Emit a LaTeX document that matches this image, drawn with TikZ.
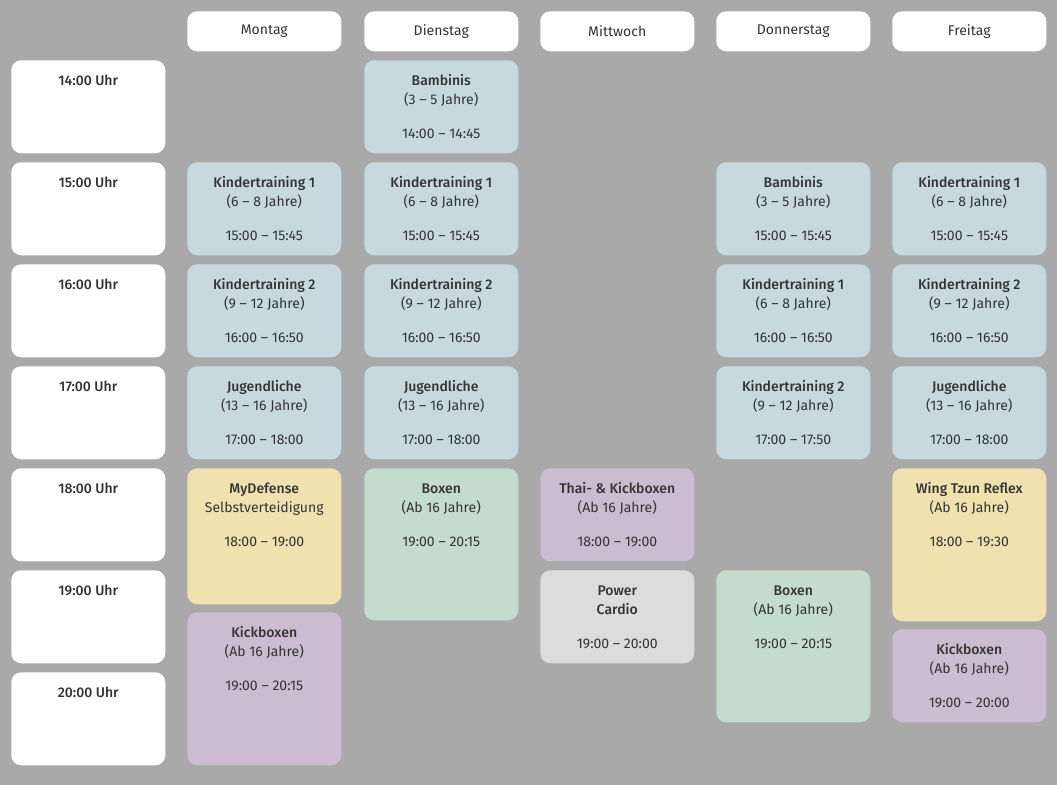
\documentclass[tikz,border=0pt]{standalone}
\usepackage{fontspec}
\setmainfont{Fira Sans}[BoldFont={* Medium}]
\usepackage{tikz}
\usetikzlibrary{positioning}

\definecolor{bg}{HTML}{A9A9A9}
\definecolor{txt}{HTML}{333333}
\definecolor{kids}{HTML}{C7D9DF}
\definecolor{gelb}{HTML}{EFE2AE}
\definecolor{gruen}{HTML}{C4DCCD}
\definecolor{lila}{HTML}{CBBCD2}
\definecolor{grau}{HTML}{DCDCDC}

\tikzset{
  box/.style={anchor=north west, rounded corners=7.5pt, inner sep=0pt,
    minimum width=115.5pt},
  line/.style={anchor=base, inner sep=0pt, text=txt,
    font=\fontsize{10.5}{12}\selectfont}
}

% box name, x, y, height (px), colour, title, second line, time
\newcommand{\kurs}[8]{%
  \node[box, fill=#5, minimum height=#4*0.75pt] (#1) at (#2,#3) {};
  \node[line, font=\fontsize{10.5}{12}\selectfont\bfseries] (#1-a) at ([yshift=-18.75pt]#1.north) {#6};
  \node[line] (#1-b) at ([yshift=-33pt]#1.north) {#7};
  \node[line] (#1-c) at ([yshift=-58.5pt]#1.north) {#8};
}
% time of day box
\newcommand{\zeit}[3]{%
  \node[box, fill=white, minimum height=69.75pt] (#1) at (11,#2) {};
  \node[line, font=\fontsize{10.5}{12}\selectfont\bfseries] (#1-a) at ([yshift=-18.75pt]#1.north) {#3};
}

\begin{document}
\begin{tikzpicture}[x=0.75pt, y=-0.75pt]

\fill[bg] (0,0) rectangle (1057,785);

% days
\node[box, fill=white, minimum height=30pt] (mo) at (187,11) {};
\node[box, fill=white, minimum height=30pt] (di) at (364,11) {};
\node[box, fill=white, minimum height=30pt] (mi) at (540,11) {};
\node[box, fill=white, minimum height=30pt] (do) at (716,11) {};
\node[box, fill=white, minimum height=30pt] (fr) at (892,11) {};
\node[line, anchor=center] at (mo) {Montag};
\node[line, anchor=center] at (di) {Dienstag};
\node[line, anchor=center] at (mi) {Mittwoch};
\node[line, anchor=center] at (do) {Donnerstag};
\node[line, anchor=center] at (fr) {Freitag};

% hours
\zeit{h14}{60}{14:00 Uhr}
\zeit{h15}{162}{15:00 Uhr}
\zeit{h16}{264}{16:00 Uhr}
\zeit{h17}{366}{17:00 Uhr}
\zeit{h18}{468}{18:00 Uhr}
\zeit{h19}{570}{19:00 Uhr}
\zeit{h20}{672}{20:00 Uhr}

% Montag
\kurs{mo1}{187}{162}{93}{kids}{Kindertraining 1}{(6 – 8 Jahre)}{15:00 – 15:45}
\kurs{mo2}{187}{264}{93}{kids}{Kindertraining 2}{(9 – 12 Jahre)}{16:00 – 16:50}
\kurs{mo3}{187}{366}{93}{kids}{Jugendliche}{(13 – 16 Jahre)}{17:00 – 18:00}
\kurs{mo4}{187}{468}{136}{gelb}{MyDefense}{Selbstverteidigung}{18:00 – 19:00}
\kurs{mo5}{187}{612}{153}{lila}{Kickboxen}{(Ab 16 Jahre)}{19:00 – 20:15}

% Dienstag
\kurs{di0}{364}{60}{93}{kids}{Bambinis}{(3 – 5 Jahre)}{14:00 – 14:45}
\kurs{di1}{364}{162}{93}{kids}{Kindertraining 1}{(6 – 8 Jahre)}{15:00 – 15:45}
\kurs{di2}{364}{264}{93}{kids}{Kindertraining 2}{(9 – 12 Jahre)}{16:00 – 16:50}
\kurs{di3}{364}{366}{93}{kids}{Jugendliche}{(13 – 16 Jahre)}{17:00 – 18:00}
\kurs{di4}{364}{468}{152}{gruen}{Boxen}{(Ab 16 Jahre)}{19:00 – 20:15}

% Mittwoch
\kurs{mi1}{540}{468}{93}{lila}{Thai- \& Kickboxen}{(Ab 16 Jahre)}{18:00 – 19:00}
\kurs{mi2}{540}{570}{93}{grau}{Power}{\bfseries Cardio}{19:00 – 20:00}

% Donnerstag
\kurs{do1}{716}{162}{93}{kids}{Bambinis}{(3 – 5 Jahre)}{15:00 – 15:45}
\kurs{do2}{716}{264}{93}{kids}{Kindertraining 1}{(6 – 8 Jahre)}{16:00 – 16:50}
\kurs{do3}{716}{366}{93}{kids}{Kindertraining 2}{(9 – 12 Jahre)}{17:00 – 17:50}
\kurs{do4}{716}{570}{152}{gruen}{Boxen}{(Ab 16 Jahre)}{19:00 – 20:15}

% Freitag
\kurs{fr1}{892}{162}{93}{kids}{Kindertraining 1}{(6 – 8 Jahre)}{15:00 – 15:45}
\kurs{fr2}{892}{264}{93}{kids}{Kindertraining 2}{(9 – 12 Jahre)}{16:00 – 16:50}
\kurs{fr3}{892}{366}{93}{kids}{Jugendliche}{(13 – 16 Jahre)}{17:00 – 18:00}
\kurs{fr4}{892}{468}{153}{gelb}{Wing Tzun Reflex}{(Ab 16 Jahre)}{18:00 – 19:30}
\kurs{fr5}{892}{629}{93}{lila}{Kickboxen}{(Ab 16 Jahre)}{19:00 – 20:00}

\end{tikzpicture}
\end{document}
